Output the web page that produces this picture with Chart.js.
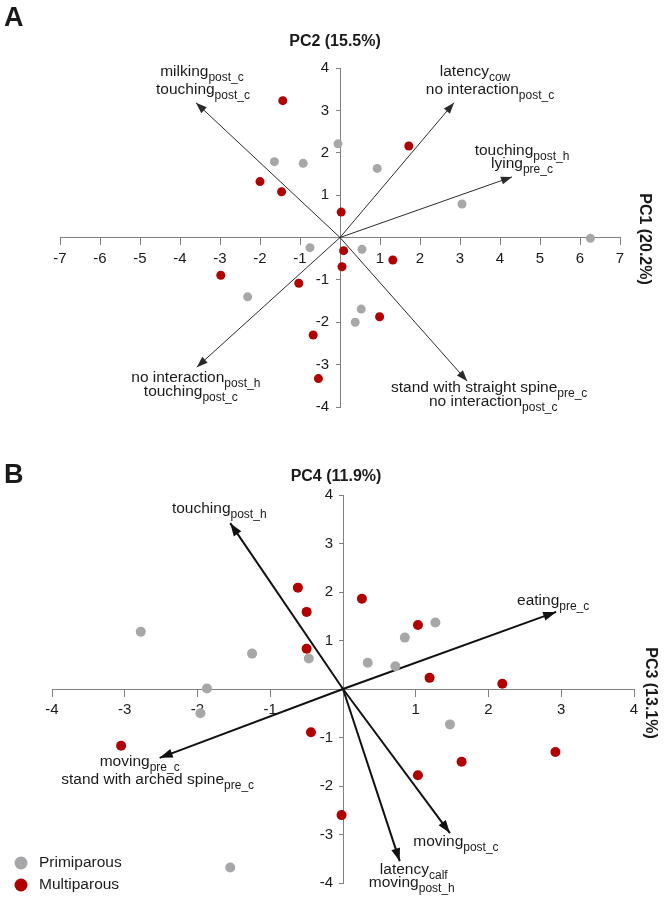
<!DOCTYPE html>
<html>
<head>
<meta charset="utf-8">
<script src="https://cdn.jsdelivr.net/npm/chart.js@4.4.1/dist/chart.umd.min.js"></script>
<style>
  html, body { margin: 0; padding: 0; background: #fff; }
  canvas { display: block; }
</style>
</head>
<body>
<canvas id="pcaA" width="664" height="450"></canvas>
<canvas id="pcaB" width="664" height="449"></canvas>
<script>
// ═══════════════════════════════════════════════
//  PCA biplots  —  panel A (PC1/PC2), panel B (PC3/PC4)
// ═══════════════════════════════════════════════

// ── DATA: panel A ─────────────────────────────
const primiA_x = [-0.05, -1.64, -0.92, 0.93, 3.05, 6.26, -0.75, 0.55, -2.31, 0.53, 0.38];
const primiA_y = [2.21, 1.79, 1.75, 1.63, 0.79, -0.02, -0.24, -0.28, -1.40, -1.69, -2.00];
const multiA_x = [-1.43, 1.72, -2.00, -1.46, 0.03, 0.09, 1.32, 0.05, -2.98, -1.03, 0.99, -0.67, -0.54];
const multiA_y = [3.23, 2.16, 1.32, 1.08, 0.60, -0.31, -0.53, -0.69, -0.89, -1.08, -1.87, -2.30, -3.33];

const loadA_x = [-3.60, 2.85, 4.30, 3.18, -3.58];
const loadA_y = [3.18, 3.18, 1.43, -3.39, -3.06];
const loadA_names = [
  [['milking', 'post_c'], ['touching', 'post_c']],
  [['latency', 'cow'], ['no interaction', 'post_c']],
  [['touching', 'post_h'], ['lying', 'pre_c']],
  [['stand with straight spine', 'pre_c'], ['no interaction', 'post_c']],
  [['no interaction', 'post_h'], ['touching', 'post_c']]
];
const ticksA_x = [-7, 7];
const ticksA_y = [-4, 4];

// ── DATA: panel B ─────────────────────────────
const primiB_x = [-2.78, 1.27, 0.85, -1.25, -0.47, 0.34, 0.72, -1.87, -1.96, 1.47, -1.55];
const primiB_y = [1.18, 1.37, 1.06, 0.73, 0.63, 0.54, 0.47, 0.01, -0.50, -0.73, -3.68];
const multiB_x = [-0.62, 0.26, -0.50, 1.03, -0.50, 1.19, 2.19, -0.44, -3.05, 2.92, 1.63, 1.03, -0.02];
const multiB_y = [2.09, 1.86, 1.59, 1.32, 0.83, 0.23, 0.11, -0.89, -1.17, -1.30, -1.50, -1.78, -2.60];

const loadB_x = [-1.55, 2.93, -2.52, 1.47, 0.78];
const loadB_y = [3.42, 1.59, -1.42, -2.97, -3.55];
const loadB_names = [
  [['touching', 'post_h']],
  [['eating', 'pre_c']],
  [['moving', 'pre_c'], ['stand with arched spine', 'pre_c']],
  [['moving', 'post_c']],
  [['latency', 'calf'], ['moving', 'post_h']]
];
const ticksB_x = [-4, 4];
const ticksB_y = [-4, 4];

const groups = ['Primiparous', 'Multiparous'];

// ── STYLE ─────────────────────────────────────
const FONT     = "'Liberation Sans', Arial, sans-serif";
const TXT      = '#1a1a1a';
const AXIS_CLR = '#808080';
const GREY     = '#a7a7aa';
const RED      = '#b00000';
const MAIN_PX  = 15.5;
const SUB_PX   = 12;

// label placement (px offsets from arrow tip, one per text line)
const labelPosA = [
  [[6, -31], [7, -13]],
  [[21, -31], [36, -13]],
  [[10, -26], [10, -13]],
  [[22, 7], [26, 21]],
  [[-1, 11], [-6, 25]]
];
const labelPosB = [
  [[-11, -14]],
  [[-3, -11]],
  [[-20, 4], [-2, 22]],
  [[6, 9]],
  [[14, 9], [12, 22]]
];

// ── HELPERS ───────────────────────────────────
const pts = (xs, ys) => xs.map((x, i) => ({ x, y: ys[i] }));

function axis(range, pos, tickLen, pad) {
  return {
    type: 'linear', min: range[0], max: range[1], position: pos,
    ticks: {
      stepSize: 1, autoSkip: false, maxRotation: 0, padding: pad,
      color: TXT, font: { family: FONT, size: 15 },
      callback: v => (v === 0 ? '' : v)
    },
    grid: { drawOnChartArea: false, drawTicks: true, tickLength: tickLen, color: AXIS_CLR, lineWidth: 1 },
    border: { color: AXIS_CLR, width: 1 }
  };
}

function subText(ctx, cx, cy, main, sub) {
  ctx.font = MAIN_PX + 'px ' + FONT;
  const wm = ctx.measureText(main).width;
  ctx.font = SUB_PX + 'px ' + FONT;
  const ws = ctx.measureText(sub).width;
  const x0 = cx - (wm + ws) / 2;
  ctx.textAlign = 'left';
  ctx.textBaseline = 'middle';
  ctx.fillStyle = TXT;
  ctx.font = MAIN_PX + 'px ' + FONT;
  ctx.fillText(main, x0, cy);
  ctx.font = SUB_PX + 'px ' + FONT;
  ctx.fillText(sub, x0 + wm, cy + 5.5);
}

// arrow heads, loading labels, titles, panel letter, legend
function biplotPlugin(cfg) {
  return {
    id: 'biplot',
    // a centred y axis puts its labels right on the line; pull them left of the ticks
    afterLayout(chart) {
      const items = chart.scales.y.getLabelItems(chart.chartArea);
      items.forEach(it => { it.options.translation[0] -= cfg.yLabelShift; });
    },
    afterDatasetsDraw(chart) {
      const ctx = chart.ctx, xs = chart.scales.x, ys = chart.scales.y;
      const ox = xs.getPixelForValue(0), oy = ys.getPixelForValue(0);
      cfg.lx.forEach((lx, i) => {
        const px = xs.getPixelForValue(lx), py = ys.getPixelForValue(cfg.ly[i]);
        const a = Math.atan2(py - oy, px - ox);
        ctx.save();
        ctx.translate(px, py);
        ctx.rotate(a);
        ctx.beginPath();
        ctx.moveTo(0, 0);
        ctx.lineTo(-cfg.headLen, -cfg.headW / 2);
        ctx.lineTo(-cfg.headLen, cfg.headW / 2);
        ctx.closePath();
        ctx.fillStyle = cfg.arrowClr;
        ctx.fill();
        ctx.restore();

        cfg.names[i].forEach((ln, j) => {
          const off = cfg.pos[i][j];
          subText(ctx, px + off[0], py + off[1], ln[0], ln[1]);
        });
      });
    },
    afterDraw(chart) {
      const ctx = chart.ctx;
      ctx.save();
      ctx.fillStyle = TXT;
      // panel letter
      ctx.font = 'bold 27px ' + FONT;
      ctx.textAlign = 'left';
      ctx.textBaseline = 'alphabetic';
      ctx.fillText(cfg.letter, 4, cfg.letterY);
      // vertical axis title (top)
      ctx.font = 'bold 16px ' + FONT;
      ctx.textAlign = 'center';
      ctx.textBaseline = 'middle';
      ctx.fillText(cfg.yTitle, cfg.yTitlePos[0], cfg.yTitlePos[1]);
      // horizontal axis title (right, rotated)
      ctx.translate(cfg.xTitlePos[0], cfg.xTitlePos[1]);
      ctx.rotate(Math.PI / 2);
      ctx.fillText(cfg.xTitle, 0, 0);
      ctx.restore();

      if (cfg.legend) {
        ctx.save();
        chart.data.datasets.slice(0, 2).forEach((ds, i) => {
          const y = cfg.legend[1] + i * 22;
          ctx.beginPath();
          ctx.arc(cfg.legend[0], y, 6.5, 0, Math.PI * 2);
          ctx.fillStyle = ds.backgroundColor;
          ctx.fill();
          ctx.fillStyle = TXT;
          ctx.font = '15.5px ' + FONT;
          ctx.textAlign = 'left';
          ctx.textBaseline = 'middle';
          ctx.fillText(ds.label, cfg.legend[0] + 18, y);
        });
        ctx.restore();
      }
    }
  };
}

function buildChart(id, d, cfg) {
  const arrows = d.lx.map((lx, i) => ({
    label: 'load' + i,
    data: [{ x: 0, y: 0 }, { x: lx, y: d.ly[i] }],
    showLine: true, pointRadius: 0,
    borderColor: cfg.arrowClr, borderWidth: cfg.arrowW,
    order: 2
  }));
  return new Chart(document.getElementById(id), {
    type: 'scatter',
    data: {
      datasets: [
        { label: groups[0], data: pts(d.px, d.py), backgroundColor: GREY, borderWidth: 0, pointRadius: cfg.r, order: 1 },
        { label: groups[1], data: pts(d.mx, d.my), backgroundColor: RED, borderWidth: 0, pointRadius: cfg.r, order: 0 },
        ...arrows
      ]
    },
    options: {
      responsive: false,
      animation: false,
      devicePixelRatio: 1,
      layout: { padding: cfg.padding },
      plugins: { legend: { display: false }, tooltip: { enabled: false } },
      scales: {
        x: axis(d.xr, { y: 0 }, 7, 5),
        y: axis(d.yr, { x: 0 }, 4, 5)
      }
    },
    plugins: [biplotPlugin(Object.assign({ lx: d.lx, ly: d.ly, names: d.names }, cfg))]
  });
}

// ── PANEL A ───────────────────────────────────
buildChart('pcaA',
  { px: primiA_x, py: primiA_y, mx: multiA_x, my: multiA_y,
    lx: loadA_x, ly: loadA_y, names: loadA_names, xr: ticksA_x, yr: ticksA_y },
  { padding: { left: 60, right: 44, top: 68, bottom: 43 },
    r: 4.5, arrowClr: '#2a2a2a', arrowW: 1, headLen: 11, headW: 8,
    pos: labelPosA, letter: 'A', letterY: 26, yLabelShift: 11,
    yTitle: 'PC2 (15.5%)', yTitlePos: [335, 42],
    xTitle: 'PC1 (20.2%)', xTitlePos: [644, 239] });

// ── PANEL B ───────────────────────────────────
buildChart('pcaB',
  { px: primiB_x, py: primiB_y, mx: multiB_x, my: multiB_y,
    lx: loadB_x, ly: loadB_y, names: loadB_names, xr: ticksB_x, yr: ticksB_y },
  { padding: { left: 52, right: 30, top: 45, bottom: 16 },
    r: 5, arrowClr: '#111111', arrowW: 2, headLen: 13, headW: 9,
    pos: labelPosB, letter: 'B', letterY: 33, yLabelShift: 10,
    yTitle: 'PC4 (11.9%)', yTitlePos: [336, 27],
    xTitle: 'PC3 (13.1%)', xTitlePos: [650, 243],
    legend: [21, 413] });
</script>
</body>
</html>
